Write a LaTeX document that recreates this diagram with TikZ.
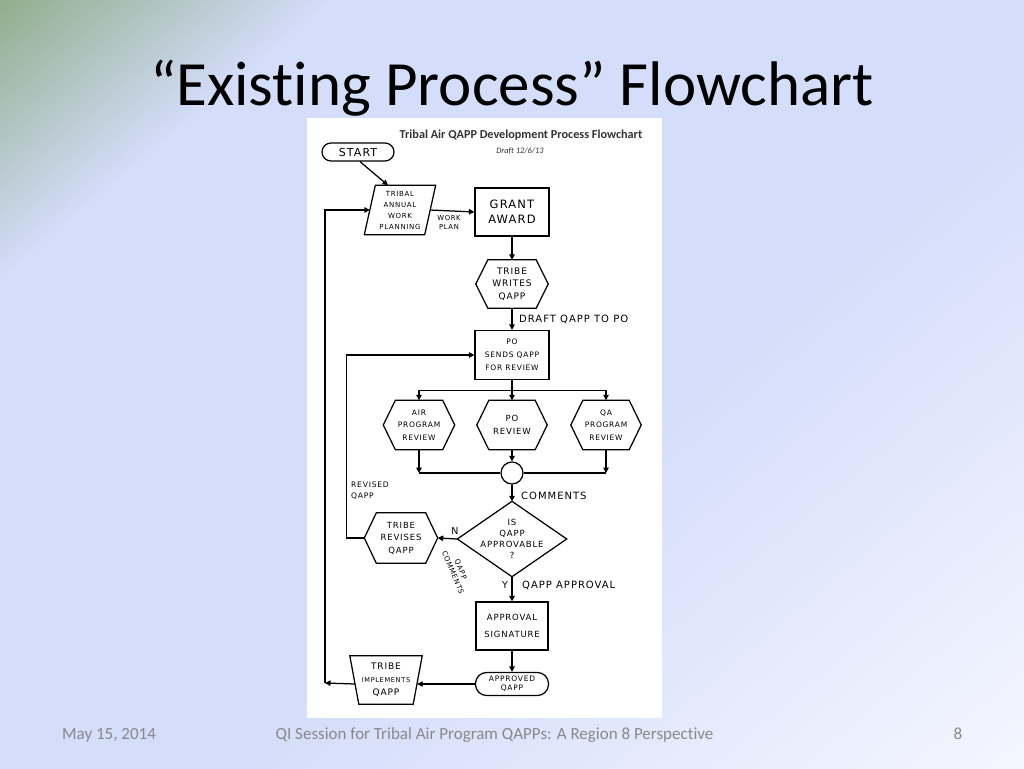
\documentclass[tikz,border=0pt]{standalone}
\usepackage{fontspec}
\setmainfont{Carlito}[Ligatures=NoCommon]
\newfontfamily\hand[LetterSpace=10]{DejaVu Sans}
\usetikzlibrary{arrows.meta,calc}
\definecolor{bgA}{RGB}{140,170,132}
\definecolor{bgB}{RGB}{212,221,250}
\definecolor{bgC}{RGB}{245,247,255}
\definecolor{footgray}{RGB}{137,137,137}
\pgfdeclarehorizontalshading{slidebg}{100bp}{color(0bp)=(bgA); color(25bp)=(bgA); color(34bp)=(bgB); color(54bp)=(bgB); color(75bp)=(bgC); color(100bp)=(bgC)}
\tikzset{
  ln/.style={line width=1.25pt, black},
  arr/.style={ln, -{Triangle[length=5.5pt,width=5.5pt]}},
  txt/.style={align=center, inner sep=0pt, text=black},
  bx/.style={txt, draw, ln, minimum width=74pt, minimum height=48pt},
  shp/.style={txt, minimum width=#1},
  lab/.style={txt, font=\hand\fontsize{10}{12}\selectfont},
}
\newcommand{\hexpath}[2]{\draw[ln] (#1.west) -- ($(#1.north west)+(#2,0)$) -- ($(#1.north east)+(-#2,0)$) -- (#1.east) -- ($(#1.south east)+(-#2,0)$) -- ($(#1.south west)+(#2,0)$) -- cycle;}
\begin{document}
\begin{tikzpicture}[x=1pt,y=-1pt]
\useasboundingbox (0,0) rectangle (1024,768);
\begin{scope}
\clip (0,0) rectangle (1024,768);
\shade[shading=slidebg, shading angle=-50] (-128,-256) rectangle (1152,1024);
\end{scope}
% title
\node[txt, font=\fontsize{63}{70}\selectfont, anchor=base] (title) at (512,105) {“Existing Process” Flowchart};
% footer
\node[txt, font=\fontsize{17}{20}\selectfont, text=footgray, anchor=base west] (fdate) at (62,739) {May 15, 2014};
\node[txt, font=\fontsize{17}{20}\selectfont, text=footgray, anchor=base] (ftitle) at (494.5,739) {QI Session for Tribal Air Program QAPPs: A Region 8 Perspective};
\node[txt, font=\fontsize{17}{20}\selectfont, text=footgray, anchor=base] (fnum) at (958,739) {8};
% paper
\fill[white] (307,118) rectangle (662,718);
\node[txt, font=\bfseries\fontsize{12.2}{14}\selectfont, text=black!80, anchor=base] (ftit) at (521,138) {Tribal Air QAPP Development Process Flowchart};
\node[txt, font=\itshape\fontsize{8.4}{10}\selectfont, text=black!80, anchor=base] (fdraft) at (520,153) {Draft 12/6/13};
% nodes
\node[txt, draw, ln, rounded corners=9pt, minimum width=72pt, minimum height=18pt, font=\hand\fontsize{11}{12}\selectfont] (start) at (358,152) {START};
\node[shp=71pt, minimum height=49pt, font=\hand\fontsize{7}{11}\selectfont] (twp) at (400,210) {TRIBAL\\ANNUAL\\WORK\\PLANNING};
\draw[ln] ($(twp.north west)+(11,0)$) -- (twp.north east) -- ($(twp.south east)+(-11,0)$) -- (twp.south west) -- cycle;
\node[bx, font=\hand\fontsize{11.5}{15}\selectfont] (ga) at (512,212) {GRANT\\AWARD};
\node[shp=72pt, minimum height=48pt, font=\hand\fontsize{9}{12.5}\selectfont] (tw) at (512,284) {TRIBE\\WRITES\\QAPP};
\hexpath{tw}{12}
\node[bx, minimum height=49pt, font=\hand\fontsize{7.5}{13}\selectfont] (ps) at (512,355) {PO\\SENDS QAPP\\FOR REVIEW};
\node[shp=71pt, minimum height=49pt, font=\hand\fontsize{7.5}{12.5}\selectfont] (ar) at (419,425) {AIR\\PROGRAM\\REVIEW};
\hexpath{ar}{12}
\node[shp=70pt, minimum height=49pt, font=\hand\fontsize{8.5}{13}\selectfont] (pr) at (512,425) {PO\\REVIEW};
\hexpath{pr}{12}
\node[shp=70pt, minimum height=49pt, font=\hand\fontsize{7.5}{12.5}\selectfont] (qa) at (606,425) {QA\\PROGRAM\\REVIEW};
\hexpath{qa}{12}
\node[draw, ln, circle, minimum size=22pt, inner sep=0pt] (circ) at (512,473) {};
\node[shp=109pt, minimum height=75pt, font=\hand\fontsize{8.5}{11}\selectfont] (dia) at (512,539) {IS\\QAPP\\APPROVABLE\\?};
\draw[ln] (dia.north) -- (dia.east) -- (dia.south) -- (dia.west) -- cycle;
\node[shp=73pt, minimum height=50pt, font=\hand\fontsize{8.5}{12.5}\selectfont] (tr) at (401,538) {TRIBE\\REVISES\\QAPP};
\hexpath{tr}{12}
\node[bx, minimum width=72pt, font=\hand\fontsize{8.5}{17}\selectfont] (as) at (512,626) {APPROVAL\\SIGNATURE};
\node[txt, draw, ln, rounded corners=11pt, minimum width=73pt, minimum height=23pt, font=\hand\fontsize{7.5}{9}\selectfont] (aq) at (512,684) {APPROVED\\QAPP};
\node[shp=72pt, minimum height=48pt, font=\hand\fontsize{9}{13}\selectfont] (ti) at (386,680) {TRIBE\\{\fontsize{6.6}{13}\selectfont IMPLEMENTS}\\QAPP};
\draw[ln] (ti.north west) -- (ti.north east) -- ($(ti.south east)+(-9,0)$) -- ($(ti.south west)+(9,0)$) -- cycle;
% connectors
\draw[arr] ($(start.south)+(2,0)$) -- ($(twp.north)+(-12,0)$);
\draw[arr] ($(twp.east)+(-5.5,0)$) -- (ga.west);
\node[lab, font=\hand\fontsize{6.8}{9}\selectfont] (wp) at (449,222) {WORK\\PLAN};
\draw[arr] (ga.south) -- (tw.north);
\draw[arr] (tw.south) -- (ps.north);
\node[lab, anchor=west] (dq) at (519,319) {DRAFT QAPP TO PO};
\coordinate (br) at ($(ps.south)+(0,10)$);
\draw[ln] (ps.south) -- (br);
\draw[ln] (ar.north |- br) -- (qa.north |- br);
\draw[arr] (ar.north |- br) -- (ar.north);
\draw[arr] (br) -- (pr.north);
\draw[arr] (qa.north |- br) -- (qa.north);
\draw[arr] (ar.south) -- (ar.south |- circ.center);
\draw[arr] (qa.south) -- (qa.south |- circ.center);
\draw[ln] (ar.south |- circ.center) -- (circ.west);
\draw[ln] (qa.south |- circ.center) -- (circ.east);
\draw[arr] (pr.south) -- (circ.north);
\draw[arr] (circ.south) -- (dia.north);
\node[lab, anchor=west] (cm) at (521,496) {COMMENTS};
\draw[arr] (dia.west) -- (tr.east);
\node[lab, font=\hand\fontsize{9.5}{10}\selectfont] (nn) at (455,531) {N};
\node[lab, font=\hand\fontsize{7}{8.5}\selectfont, rotate=-67] (qc) at (457,571) {QAPP\\COMMENTS};
\coordinate (lp2) at ($(tr.west)+(-18,0)$);
\draw[arr] (tr.west) -- (lp2) |- (ps.west);
\node[lab, font=\hand\fontsize{7.6}{10.5}\selectfont, align=left, anchor=north west] (rq) at (351,482) {REVISED\\QAPP};
\draw[arr] (dia.south) -- (as.north);
\node[lab, font=\hand\fontsize{9.5}{10}\selectfont] (yy) at (505,585) {Y};
\node[lab, anchor=west] (qap) at (522,585) {QAPP APPROVAL};
\draw[arr] (as.south) -- (aq.north);
\draw[arr] (aq.west) -- ($(ti.east |- aq.west)+(-5,0)$);
\coordinate (lp1) at (325,683);
\draw[arr] ($(ti.west |- aq.west)+(5,0)$) -- (lp1);
\draw[arr] (lp1) |- ($(twp.west)+(5.5,0)$);
\end{tikzpicture}
\end{document}
